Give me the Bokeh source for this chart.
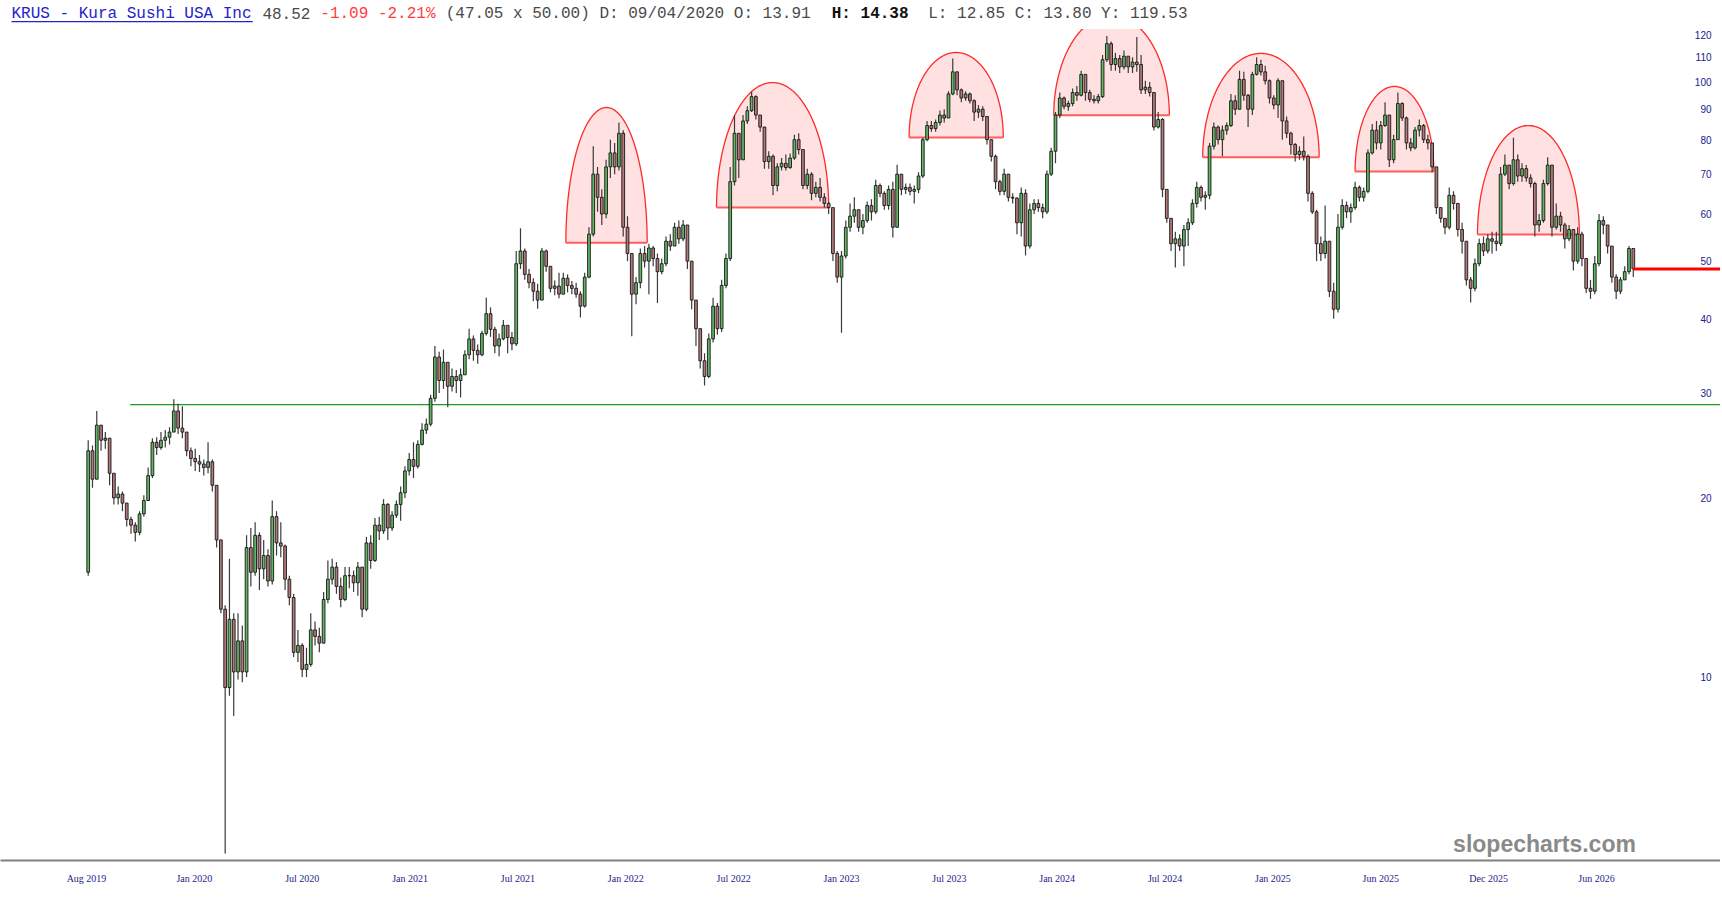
import numpy as np
from bokeh.plotting import figure
from bokeh.models import Range1d, FixedTicker, Label, BoxAnnotation, ColumnDataSource
from bokeh.embed import file_html
from bokeh.resources import INLINE

# ---------------- data (weekly candles) ----------------
first_open = 15.0
closes = [
    24.0, 21.5, 26.5, 25.0, 25.2, 22.0, 20.0, 20.3, 19.6, 18.4,
    18.0, 17.5, 18.8, 19.8, 21.8, 24.8, 24.3, 25.0, 25.3, 25.8,
    28.0, 26.2, 25.8, 24.0, 23.3, 23.0, 22.8, 22.5, 23.0, 21.0,
    17.0, 13.0, 9.6, 12.5, 10.2, 11.5, 10.2, 16.5, 15.0, 17.3,
    15.2, 16.0, 14.5, 18.6, 16.8, 16.6, 14.6, 13.6, 11.0, 11.3,
    10.3, 10.5, 12.0, 11.7, 11.4, 13.5, 14.6, 15.3, 14.2, 13.5,
    14.8, 14.8, 14.4, 15.3, 13.0, 16.8, 15.7, 18.0, 17.6, 19.5,
    17.8, 18.7, 19.5, 20.4, 22.2, 23.2, 22.6, 24.6, 26.0, 26.6,
    29.4, 34.5, 31.5, 33.8, 30.8, 32.0, 31.5, 32.2, 34.8, 37.0,
    35.4, 34.8, 37.8, 40.8, 38.4, 36.0, 37.0, 39.0, 37.2, 36.3,
    49.5, 52.0, 47.5, 46.0, 44.5, 43.0, 52.0, 49.0, 45.0, 45.4,
    44.0, 46.8, 45.5, 45.0, 44.0, 42.0, 47.0, 55.5, 70.0, 64.0,
    60.0, 72.0, 76.0, 72.0, 82.0, 57.0, 51.5, 44.0, 46.0, 51.5,
    50.0, 52.6, 50.5, 48.0, 49.5, 54.0, 53.0, 57.0, 54.5, 57.5,
    50.0, 43.0, 38.5, 34.0, 32.0, 37.0, 42.0, 38.5, 45.5, 50.5,
    68.0, 82.0, 74.0, 86.0, 89.5, 94.5, 88.0, 84.0, 73.5, 75.0,
    67.0, 72.0, 73.0, 71.8, 74.5, 80.0, 77.0, 67.0, 70.0, 65.0,
    66.5, 64.0, 62.5, 61.5, 51.5, 47.0, 51.0, 57.0, 59.5, 61.0,
    57.0, 58.5, 62.0, 60.5, 67.0, 65.0, 62.0, 66.0, 57.0, 70.0,
    66.0, 66.5, 65.5, 66.0, 69.5, 80.0, 84.5, 83.5, 85.5, 88.0,
    87.0, 95.5, 104.0, 97.0, 94.0, 95.5, 93.0, 89.0, 90.0, 87.5,
    80.0, 75.0, 68.0, 65.5, 70.0, 64.0, 63.8, 58.0, 65.0, 53.0,
    61.0, 62.5, 61.5, 60.5, 70.0, 76.5, 88.0, 94.0, 91.0, 92.0,
    96.0, 95.0, 103.0, 96.0, 93.5, 93.0, 94.5, 109.0, 116.0, 107.0,
    109.5, 106.0, 110.5, 106.0, 108.0, 107.0, 97.0, 98.0, 96.0, 84.0,
    86.5, 66.0, 59.0, 53.5, 54.5, 53.0, 56.5, 58.0, 62.5, 66.5,
    64.0, 64.5, 78.0, 84.0, 80.0, 83.0, 84.5, 93.0, 90.0, 101.0,
    95.0, 90.0, 103.0, 107.0, 104.0, 100.5, 94.0, 91.5, 100.5, 86.0,
    82.0, 78.5, 75.5, 76.5, 75.0, 65.0, 60.5, 53.5, 51.5, 54.0,
    44.5, 41.5, 57.0, 62.0, 60.5, 61.5, 66.5, 64.0, 65.5, 76.0,
    83.0, 79.0, 84.5, 88.0, 74.0, 80.0, 92.0, 87.0, 79.0, 77.5,
    83.0, 84.5, 80.0, 79.0, 72.0, 61.5, 59.0, 57.0, 64.5, 62.5,
    56.5, 54.0, 46.5, 45.0, 49.5, 53.5, 52.0, 54.5, 54.0, 53.5,
    70.0, 72.5, 67.5, 74.0, 69.5, 71.5, 69.0, 67.5, 57.5, 58.5,
    67.5, 72.5, 57.0, 59.5, 57.5, 54.5, 56.5, 50.0, 55.5, 50.5,
    45.0, 44.5, 49.5, 58.5, 57.5, 53.0, 47.0, 44.5, 46.5, 48.0,
    52.5, 48.52,
]
highs = [
    25.0, 24.5, 28.0, 26.5, 25.8, 25.0, 21.8, 20.9, 20.5, 19.5,
    18.6, 18.2, 19.0, 20.2, 22.5, 25.2, 25.3, 25.8, 26.0, 26.3,
    29.3, 28.8, 28.5, 25.2, 24.3, 24.2, 23.6, 23.2, 24.8, 23.2,
    21.0, 16.8, 13.2, 15.8, 12.8, 12.8, 12.2, 17.3, 17.8, 18.2,
    17.5, 17.0, 16.4, 19.8, 19.0, 18.2, 16.7, 14.8, 13.8, 12.0,
    11.4, 11.2, 12.8, 12.4, 12.1, 13.9, 15.7, 15.8, 15.6, 14.7,
    15.3, 15.3, 15.1, 15.6, 14.8, 17.2, 17.3, 18.5, 18.6, 19.9,
    19.6, 19.0, 19.8, 20.9, 22.6, 23.8, 24.8, 25.0, 26.7, 27.2,
    29.8, 36.0, 35.2, 35.5, 33.5, 33.0, 32.8, 33.0, 35.4, 38.5,
    37.5, 36.2, 38.2, 43.4, 41.8, 38.8, 37.8, 39.8, 38.8, 38.0,
    52.0, 56.8, 52.5, 48.5, 46.8, 45.8, 52.6, 52.3, 49.0, 46.4,
    47.8, 47.8, 47.5, 46.3, 46.0, 44.5, 47.8, 57.0, 78.0, 72.0,
    66.0, 74.0, 80.0, 79.0, 85.5, 83.0, 59.5, 51.5, 47.0, 52.5,
    53.0, 53.5, 53.0, 51.5, 50.5, 55.0, 55.5, 58.0, 58.5, 58.6,
    57.0, 50.0, 43.0, 38.5, 35.0, 37.8, 43.4, 42.5, 46.5, 51.5,
    72.0, 88.0, 82.0, 88.0, 91.0, 96.3, 95.0, 87.5, 84.0, 76.5,
    75.5, 73.0, 74.5, 75.5, 75.8, 81.5, 82.0, 76.0, 71.5, 70.5,
    68.0, 69.0, 65.0, 63.0, 61.0, 52.0, 52.0, 58.5, 62.5, 64.0,
    61.0, 60.0, 63.0, 63.5, 68.5, 67.5, 65.5, 67.0, 68.0, 72.6,
    70.0, 67.5, 67.5, 67.0, 70.5, 80.6, 86.0, 86.0, 86.5, 89.6,
    90.0, 96.5, 109.5, 104.0, 97.5, 96.5, 96.0, 93.5, 91.5, 91.0,
    87.5, 80.0, 75.5, 68.5, 71.5, 70.0, 65.0, 64.0, 66.5, 66.0,
    62.5, 63.5, 63.5, 62.5, 71.0, 77.5, 89.0, 96.0, 94.5, 93.0,
    97.5, 98.5, 104.5, 102.5, 97.0, 95.0, 95.5, 111.0, 119.5, 117.0,
    112.0, 111.0, 113.0, 110.0, 110.0, 119.0, 111.0, 100.5, 100.0, 96.0,
    89.0, 87.0, 64.5, 58.0, 56.0, 55.5, 57.5, 59.0, 63.5, 68.0,
    67.0, 65.5, 79.0, 85.5, 84.5, 84.5, 85.5, 95.5, 95.0, 104.5,
    104.0, 95.5, 104.0, 110.0, 109.0, 106.5, 101.0, 95.0, 101.5, 100.5,
    87.5, 82.5, 79.0, 78.0, 81.0, 75.5, 65.5, 61.0, 55.0, 62.0,
    53.0, 46.0, 60.0, 63.5, 63.0, 62.5, 68.0, 67.0, 66.5, 77.0,
    85.0, 86.0, 86.0, 92.5, 88.0, 81.5, 96.0, 92.5, 87.5, 80.5,
    84.0, 86.5, 85.0, 81.5, 79.0, 71.5, 61.5, 59.0, 66.5, 65.5,
    62.5, 58.0, 53.0, 47.0, 50.5, 54.5, 55.0, 55.5, 56.0, 56.0,
    72.0, 75.5, 72.0, 80.6, 75.5, 73.0, 72.5, 70.0, 68.0, 60.0,
    68.5, 74.7, 72.0, 62.5, 60.5, 58.0, 57.5, 56.5, 57.0, 56.0,
    50.5, 46.5, 51.0, 60.0, 59.5, 57.5, 53.0, 47.5, 47.0, 49.0,
    53.0, 50.0,
]
lows = [
    14.8, 20.8, 21.5, 24.0, 24.2, 21.0, 19.5, 19.5, 19.0, 17.9,
    17.4, 16.9, 17.3, 18.6, 19.8, 21.6, 23.6, 24.1, 24.3, 24.6,
    25.8, 25.6, 25.2, 23.5, 22.6, 22.2, 22.1, 21.8, 22.0, 20.5,
    16.5, 12.8, 5.05, 9.3, 8.6, 9.9, 9.8, 10.0, 14.2, 14.8,
    14.0, 14.6, 14.2, 14.3, 16.0, 15.9, 14.0, 13.2, 10.8, 10.6,
    10.0, 10.0, 10.4, 11.3, 11.0, 11.4, 13.3, 14.3, 13.8, 13.1,
    13.4, 14.1, 13.9, 13.7, 12.6, 12.9, 15.2, 15.6, 17.0, 17.4,
    17.0, 17.6, 18.5, 18.3, 20.0, 21.8, 21.6, 22.4, 24.5, 25.6,
    26.4, 29.0, 30.0, 30.5, 28.4, 30.2, 30.0, 29.5, 32.3, 34.2,
    34.0, 33.6, 34.6, 37.5, 37.3, 35.0, 34.6, 36.8, 35.0, 35.4,
    36.0, 48.5, 46.5, 45.0, 42.8, 41.6, 43.0, 48.0, 44.3, 43.8,
    43.3, 44.0, 44.3, 44.0, 43.4, 40.2, 41.8, 46.8, 55.0, 60.5,
    57.5, 59.0, 69.0, 70.0, 71.0, 55.0, 50.0, 37.4, 42.3, 45.0,
    48.8, 44.0, 49.0, 42.5, 47.5, 49.0, 52.0, 53.0, 53.5, 54.0,
    48.5, 41.5, 36.0, 33.0, 30.9, 31.8, 36.5, 37.6, 38.0, 45.0,
    50.0, 67.0, 69.0, 74.0, 85.0, 89.0, 86.5, 82.5, 71.5, 71.5,
    64.5, 65.5, 71.0, 71.0, 71.5, 74.0, 75.5, 66.0, 66.0, 63.3,
    64.0, 63.0, 61.5, 60.0, 50.0, 46.0, 37.9, 50.5, 56.0, 58.0,
    56.0, 55.5, 58.0, 58.5, 60.0, 64.0, 61.0, 61.0, 54.8, 57.0,
    64.5, 64.8, 64.5, 62.5, 65.0, 69.0, 79.5, 82.5, 82.5, 84.5,
    85.5, 87.0, 95.0, 95.0, 92.5, 93.0, 92.0, 86.0, 87.0, 86.0,
    78.5, 73.5, 66.0, 64.5, 64.5, 63.0, 62.5, 55.5, 55.0, 51.1,
    52.5, 60.0, 60.5, 59.0, 60.0, 69.5, 73.0, 87.0, 90.0, 89.5,
    91.0, 93.0, 94.5, 93.0, 92.5, 92.0, 92.0, 94.0, 108.0, 104.5,
    104.5, 103.5, 105.0, 103.5, 103.5, 104.0, 95.5, 95.5, 94.5, 82.9,
    83.5, 64.0, 58.0, 52.0, 48.8, 52.0, 49.0, 53.0, 57.5, 61.5,
    63.0, 61.0, 63.5, 77.0, 78.5, 75.0, 81.5, 84.0, 88.0, 90.0,
    93.0, 84.0, 88.0, 102.5, 102.5, 99.0, 92.0, 90.0, 87.0, 80.0,
    80.5, 75.5, 73.5, 74.0, 73.8, 63.0, 60.0, 50.0, 50.0, 50.5,
    43.5, 40.0, 41.0, 56.5, 59.0, 58.0, 61.0, 63.0, 63.0, 65.0,
    75.5, 77.0, 77.0, 84.0, 72.0, 73.0, 80.0, 86.0, 77.0, 76.5,
    77.0, 81.0, 79.0, 77.0, 70.5, 60.0, 58.0, 55.5, 56.5, 61.0,
    55.0, 51.5, 45.5, 42.6, 44.5, 49.0, 51.0, 51.5, 51.5, 52.0,
    53.0, 69.5, 66.0, 67.0, 68.0, 68.0, 68.0, 66.5, 55.0, 56.0,
    58.0, 67.0, 55.0, 56.5, 56.0, 52.5, 54.0, 48.2, 49.5, 49.0,
    44.2, 43.2, 44.0, 49.0, 55.5, 51.5, 46.0, 43.2, 44.0, 46.5,
    47.5, 47.0,
]
BARS_PER_CANDLE = 5  # one candle per trading week on a trading-day axis

tick_bars = [0, 126, 252, 378, 504, 630, 756, 882, 1008, 1134, 1260, 1386, 1512, 1638, 1764]
tick_labels = ["Aug 2019", "Jan 2020", "Jul 2020", "Jan 2021", "Jul 2021", "Jan 2022",
               "Jul 2022", "Jan 2023", "Jul 2023", "Jan 2024", "Jul 2024", "Jan 2025",
               "Jun 2025", "Dec 2025", "Jun 2026"]
price_ticks = [10, 20, 30, 40, 50, 60, 70, 80, 90, 100, 110, 120]

# dome (rounded top) annotations: start bar, end bar, base price, top price
arch_left = [560, 736, 961, 1130, 1304, 1482, 1625]
arch_right = [655, 867, 1071, 1265, 1440, 1574, 1744]
arch_base = [53.7, 61.5, 80.7, 87.9, 74.7, 70.7, 55.4]
arch_top = [90.6, 99.8, 112.1, 129.4, 111.7, 98.3, 84.5]

support_level = 28.7
support_start_bar = 51

header_parts = [
    (0, "KRUS - Kura Sushi USA Inc", "#2424c8", "normal"),
    (26, "48.52", "#4a4a4a", "normal"),
    (32, "-1.09 -2.21%", "#ff3c3c", "normal"),
    (45, "(47.05 x 50.00) D: 09/04/2020 O:  13.91", "#4a4a4a", "normal"),
    (85, "H:  14.38", "#111111", "bold"),
    (95, "L:  12.85 C:  13.80 Y: 119.53", "#4a4a4a", "normal"),
]
watermark = "slopecharts.com"

# ---------------- layout helpers (screen px <-> data) ----------------
PX_PER_BAR = 0.856
X0_PX = 86.0
Y10_PX = 676.5
PX_PER_DECADE = 595.0
OFF = 0  # canvas origin in the screenshot


def bar_at(px):
    return (px - X0_PX) / PX_PER_BAR


def price_at(py):
    return 10.0 * 10 ** ((Y10_PX - py) / PX_PER_DECADE)


W, H = 1720, 898
AXIS_Y = 860
BOTTOM_BORDER = OFF + H - AXIS_Y
x_start, x_end = bar_at(OFF), bar_at(OFF + W)
y_start, y_end = price_at(AXIS_Y), price_at(OFF)

p = figure(width=W, height=H, output_backend="svg", toolbar_location=None,
           y_axis_type="log", y_axis_location=None,
           x_range=Range1d(x_start, x_end), y_range=Range1d(y_start, y_end),
           min_border_left=0, min_border_right=0, min_border_top=0,
           min_border_bottom=BOTTOM_BORDER)
p.grid.grid_line_color = None
p.outline_line_color = None
p.background_fill_color = "white"
p.border_fill_color = "white"

# domes
t = np.linspace(0, np.pi, 120)
for l, r, b, tp in zip(arch_left, arch_right, arch_base, arch_top):
    cx, a = (l + r) / 2.0, (r - l) / 2.0
    xs = cx - a * np.cos(t)
    ys = 10 ** (np.log10(b) + (np.log10(tp) - np.log10(b)) * np.sin(t))
    p.patch(xs, ys, fill_color="#ffe1e1", fill_alpha=1.0, line_color=None)
    p.line(xs, ys, line_color="#ff2a2a", line_width=1.3)
    p.line([l, r], [b, b], line_color="#ff5c5c", line_width=2)

# support line
p.segment(x0=[support_start_bar], y0=[support_level], x1=[x_end], y1=[support_level],
          line_color="#1f9a1f", line_width=1.3)

# candles
n = len(closes)
opens = [first_open] + closes[:-1]
xb = np.arange(n) * BARS_PER_CANDLE + 2
up = [c >= o for o, c in zip(opens, closes)]
src = ColumnDataSource(dict(
    x=xb, h=highs, l=lows,
    top=[max(o, c) for o, c in zip(opens, closes)],
    bot=[min(o, c) for o, c in zip(opens, closes)],
    col=["#62b562" if u else "#b47a7a" for u in up],
))
p.segment(x0="x", y0="h", x1="x", y1="l", source=src, line_color="#3a3a3a", line_width=1.2)
p.vbar(x="x", width=3.2, top="top", bottom="bot", source=src,
       fill_color="col", line_color="#151515", line_width=0.9)

# last price line
p.segment(x0=[xb[-1]], y0=[closes[-1]], x1=[x_end], y1=[closes[-1]],
          line_color="#ff0000", line_width=3)

# x axis
ax = p.xaxis[0]
ax.ticker = FixedTicker(ticks=tick_bars)
ax.major_label_overrides = {b: s for b, s in zip(tick_bars, tick_labels)}
ax.major_label_text_font = "Liberation Serif"
ax.major_label_text_font_size = "10px"
ax.major_label_text_color = "#1c1c8a"
ax.axis_line_color = "#808080"
ax.axis_line_width = 2
ax.major_tick_line_color = None
ax.minor_tick_line_color = None
ax.major_tick_in = 0
ax.major_tick_out = 0
ax.major_label_standoff = 12

# mask above the chart area (header row)
p.add_layout(BoxAnnotation(left=x_start, right=x_end, bottom=price_at(28.5), top=y_end,
                           fill_color="white", fill_alpha=1.0, line_color=None))

# price labels
for v in price_ticks:
    p.add_layout(Label(x=bar_at(1711), y=v, text=str(v), text_align="right",
                       text_baseline="middle", text_font="Liberation Sans",
                       text_font_size="10px", text_color="#20208a"))

# header
CH = 9.65
for k, s, col, style in header_parts:
    p.add_layout(Label(x=bar_at(11 + CH * k), y=price_at(13), text=s, text_align="left",
                       text_baseline="middle", text_font="Liberation Mono",
                       text_font_size="16px", text_color=col, text_font_style=style))
p.add_layout(BoxAnnotation(left=bar_at(11), right=bar_at(11 + CH * len(header_parts[0][1])),
                           bottom=price_at(21.8), top=price_at(20.4),
                           fill_color="#2424c8", fill_alpha=1.0, line_color=None))

# watermark
p.add_layout(Label(x=bar_at(1544), y=price_at(843), text=watermark, text_align="center",
                   text_baseline="middle", text_font="Liberation Sans",
                   text_font_style="bold", text_font_size="23px", text_color="#8a8a8a"))

open("out.html", "w").write(file_html(p, INLINE, "KRUS"))
